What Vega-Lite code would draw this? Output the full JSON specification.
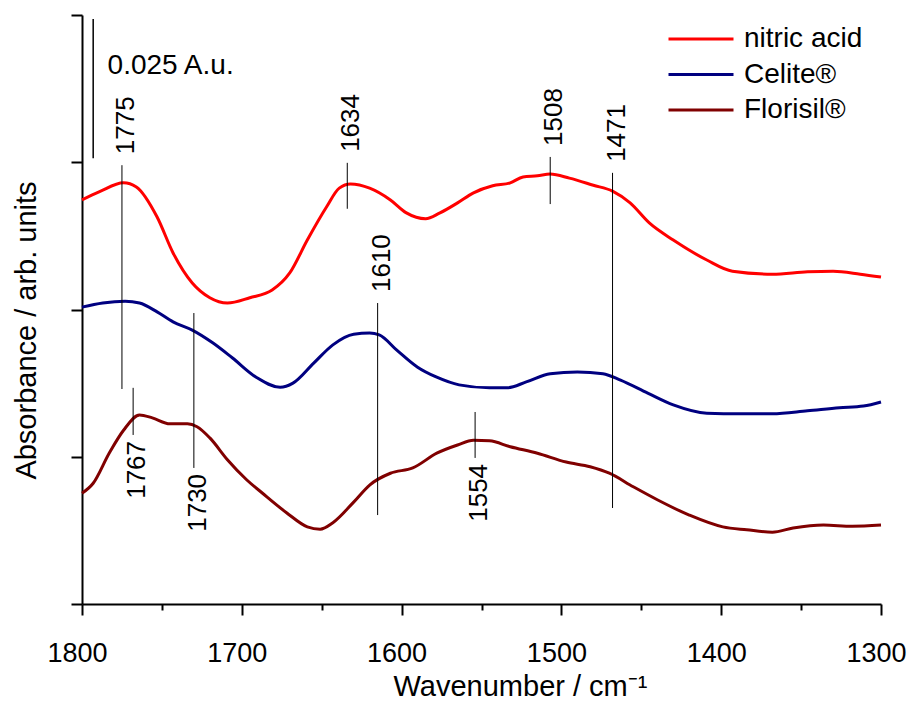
{
  "$schema": "https://vega.github.io/schema/vega-lite/v6.json",
  "width": 799,
  "height": 589,
  "autosize": "none",
  "padding": {"left": 82, "top": 15, "right": 29, "bottom": 100},
  "background": "white",
  "config": {
    "view": {"stroke": null},
    "font": "Liberation Sans",
    "text": {"font": "Liberation Sans", "color": "black"}
  },
  "datasets": {
    "spectra": [
      {"series":"nitric acid","wn":1800,"absorbance":0.0686},
      {"series":"nitric acid","wn":1789,"absorbance":0.0700},
      {"series":"nitric acid","wn":1774,"absorbance":0.0715},
      {"series":"nitric acid","wn":1766,"absorbance":0.0708},
      {"series":"nitric acid","wn":1753,"absorbance":0.0657},
      {"series":"nitric acid","wn":1743,"absorbance":0.0596},
      {"series":"nitric acid","wn":1731,"absorbance":0.0545},
      {"series":"nitric acid","wn":1720,"absorbance":0.0520},
      {"series":"nitric acid","wn":1709,"absorbance":0.0511},
      {"series":"nitric acid","wn":1695,"absorbance":0.0520},
      {"series":"nitric acid","wn":1681,"absorbance":0.0533},
      {"series":"nitric acid","wn":1670,"absorbance":0.0562},
      {"series":"nitric acid","wn":1659,"absorbance":0.0618},
      {"series":"nitric acid","wn":1647,"absorbance":0.0674},
      {"series":"nitric acid","wn":1639,"absorbance":0.0706},
      {"series":"nitric acid","wn":1632,"absorbance":0.0713},
      {"series":"nitric acid","wn":1620,"absorbance":0.0706},
      {"series":"nitric acid","wn":1607,"absorbance":0.0686},
      {"series":"nitric acid","wn":1597,"absorbance":0.0664},
      {"series":"nitric acid","wn":1585,"absorbance":0.0654},
      {"series":"nitric acid","wn":1576,"absorbance":0.0664},
      {"series":"nitric acid","wn":1565,"absorbance":0.0681},
      {"series":"nitric acid","wn":1555,"absorbance":0.0698},
      {"series":"nitric acid","wn":1543,"absorbance":0.0710},
      {"series":"nitric acid","wn":1532,"absorbance":0.0715},
      {"series":"nitric acid","wn":1524,"absorbance":0.0725},
      {"series":"nitric acid","wn":1515,"absorbance":0.0727},
      {"series":"nitric acid","wn":1507,"absorbance":0.0730},
      {"series":"nitric acid","wn":1495,"absorbance":0.0723},
      {"series":"nitric acid","wn":1480,"absorbance":0.0711},
      {"series":"nitric acid","wn":1468,"absorbance":0.0701},
      {"series":"nitric acid","wn":1457,"absorbance":0.0681},
      {"series":"nitric acid","wn":1445,"absorbance":0.0647},
      {"series":"nitric acid","wn":1430,"absorbance":0.0618},
      {"series":"nitric acid","wn":1409,"absorbance":0.0584},
      {"series":"nitric acid","wn":1393,"absorbance":0.0565},
      {"series":"nitric acid","wn":1368,"absorbance":0.0560},
      {"series":"nitric acid","wn":1346,"absorbance":0.0564},
      {"series":"nitric acid","wn":1330,"absorbance":0.0565},
      {"series":"nitric acid","wn":1313,"absorbance":0.0560},
      {"series":"nitric acid","wn":1300,"absorbance":0.0555},
      {"series":"Celite®","wn":1800,"absorbance":0.0504},
      {"series":"Celite®","wn":1787,"absorbance":0.0511},
      {"series":"Celite®","wn":1773,"absorbance":0.0514},
      {"series":"Celite®","wn":1764,"absorbance":0.0511},
      {"series":"Celite®","wn":1753,"absorbance":0.0496},
      {"series":"Celite®","wn":1743,"absorbance":0.0479},
      {"series":"Celite®","wn":1731,"absorbance":0.0465},
      {"series":"Celite®","wn":1718,"absorbance":0.0443},
      {"series":"Celite®","wn":1706,"absorbance":0.0418},
      {"series":"Celite®","wn":1691,"absorbance":0.0385},
      {"series":"Celite®","wn":1676,"absorbance":0.0368},
      {"series":"Celite®","wn":1668,"absorbance":0.0375},
      {"series":"Celite®","wn":1655,"absorbance":0.0409},
      {"series":"Celite®","wn":1643,"absorbance":0.0440},
      {"series":"Celite®","wn":1630,"absorbance":0.0458},
      {"series":"Celite®","wn":1620,"absorbance":0.0460},
      {"series":"Celite®","wn":1614,"absorbance":0.0457},
      {"series":"Celite®","wn":1603,"absorbance":0.0431},
      {"series":"Celite®","wn":1590,"absorbance":0.0402},
      {"series":"Celite®","wn":1578,"absorbance":0.0385},
      {"series":"Celite®","wn":1564,"absorbance":0.0372},
      {"series":"Celite®","wn":1545,"absorbance":0.0367},
      {"series":"Celite®","wn":1534,"absorbance":0.0367},
      {"series":"Celite®","wn":1522,"absorbance":0.0377},
      {"series":"Celite®","wn":1507,"absorbance":0.0391},
      {"series":"Celite®","wn":1490,"absorbance":0.0394},
      {"series":"Celite®","wn":1474,"absorbance":0.0391},
      {"series":"Celite®","wn":1463,"absorbance":0.0380},
      {"series":"Celite®","wn":1446,"absorbance":0.0358},
      {"series":"Celite®","wn":1430,"absorbance":0.0338},
      {"series":"Celite®","wn":1409,"absorbance":0.0324},
      {"series":"Celite®","wn":1388,"absorbance":0.0323},
      {"series":"Celite®","wn":1368,"absorbance":0.0323},
      {"series":"Celite®","wn":1346,"absorbance":0.0328},
      {"series":"Celite®","wn":1326,"absorbance":0.0333},
      {"series":"Celite®","wn":1311,"absorbance":0.0336},
      {"series":"Celite®","wn":1300,"absorbance":0.0343},
      {"series":"Florisil®","wn":1800,"absorbance":0.0188},
      {"series":"Florisil®","wn":1793,"absorbance":0.0205},
      {"series":"Florisil®","wn":1783,"absorbance":0.0256},
      {"series":"Florisil®","wn":1774,"absorbance":0.0295},
      {"series":"Florisil®","wn":1764,"absorbance":0.0321},
      {"series":"Florisil®","wn":1756,"absorbance":0.0316},
      {"series":"Florisil®","wn":1745,"absorbance":0.0306},
      {"series":"Florisil®","wn":1734,"absorbance":0.0306},
      {"series":"Florisil®","wn":1728,"absorbance":0.0301},
      {"series":"Florisil®","wn":1720,"absorbance":0.0282},
      {"series":"Florisil®","wn":1709,"absorbance":0.0245},
      {"series":"Florisil®","wn":1697,"absorbance":0.0211},
      {"series":"Florisil®","wn":1687,"absorbance":0.0188},
      {"series":"Florisil®","wn":1672,"absorbance":0.0155},
      {"series":"Florisil®","wn":1659,"absorbance":0.0131},
      {"series":"Florisil®","wn":1651,"absorbance":0.0127},
      {"series":"Florisil®","wn":1643,"absorbance":0.0138},
      {"series":"Florisil®","wn":1630,"absorbance":0.0173},
      {"series":"Florisil®","wn":1620,"absorbance":0.0202},
      {"series":"Florisil®","wn":1607,"absorbance":0.0222},
      {"series":"Florisil®","wn":1593,"absorbance":0.0231},
      {"series":"Florisil®","wn":1578,"absorbance":0.0256},
      {"series":"Florisil®","wn":1565,"absorbance":0.0270},
      {"series":"Florisil®","wn":1555,"absorbance":0.0278},
      {"series":"Florisil®","wn":1545,"absorbance":0.0277},
      {"series":"Florisil®","wn":1532,"absorbance":0.0267},
      {"series":"Florisil®","wn":1515,"absorbance":0.0256},
      {"series":"Florisil®","wn":1497,"absorbance":0.0241},
      {"series":"Florisil®","wn":1482,"absorbance":0.0233},
      {"series":"Florisil®","wn":1470,"absorbance":0.0222},
      {"series":"Florisil®","wn":1455,"absorbance":0.0199},
      {"series":"Florisil®","wn":1440,"absorbance":0.0177},
      {"series":"Florisil®","wn":1420,"absorbance":0.0151},
      {"series":"Florisil®","wn":1399,"absorbance":0.0131},
      {"series":"Florisil®","wn":1384,"absorbance":0.0126},
      {"series":"Florisil®","wn":1368,"absorbance":0.0122},
      {"series":"Florisil®","wn":1355,"absorbance":0.0129},
      {"series":"Florisil®","wn":1336,"absorbance":0.0134},
      {"series":"Florisil®","wn":1318,"absorbance":0.0132},
      {"series":"Florisil®","wn":1300,"absorbance":0.0134}
    ],
    "peaks": [
      {"label":"1775","wn":1775,"top":0.0745,"bottom":0.0365,"side":"up"},
      {"label":"1634","wn":1634,"top":0.0749,"bottom":0.0671,"side":"up"},
      {"label":"1508","wn":1507,"top":0.0759,"bottom":0.0679,"side":"up"},
      {"label":"1471","wn":1468,"top":0.0732,"bottom":0.0163,"side":"up"},
      {"label":"1610","wn":1615,"top":0.0511,"bottom":0.0151,"side":"up"},
      {"label":"1730","wn":1730,"top":0.0494,"bottom":0.0231,"side":"down"},
      {"label":"1767","wn":1768,"top":0.0367,"bottom":0.0287,"side":"down"},
      {"label":"1554","wn":1554,"top":0.0326,"bottom":0.0248,"side":"down"}
    ],
    "scalebar": [
      {"wn":1793,"top":0.0993,"bottom":0.0757,"labelWn":1784,"labelAbs":0.0900,"label":"0.025 A.u."}
    ]
  },
  "layer": [
    {
      "data": {"name": "spectra"},
      "mark": {"type": "line", "strokeWidth": 3, "interpolate": "monotone"},
      "encoding": {
        "x": {
          "field": "wn", "type": "quantitative",
          "scale": {"domain": [1300, 1800], "reverse": true, "nice": false, "zero": false},
          "axis": {
            "values": [1800,1750,1700,1650,1600,1550,1500,1450,1400,1350,1300],
            "labelExpr": "datum.value % 100 === 0 ? datum.label : ''",
            "format": "d",
            "labelOverlap": false,
            "labelFlush": false,
            "labelFont": "Liberation Sans",
            "labelFontSize": 27,
            "labelColor": "black",
            "labelPadding": 25,
            "labelOffset": -5,
            "tickSize": {"condition": {"test": "datum.value % 100 === 0", "value": 11}, "value": 6},
            "tickColor": "black",
            "tickWidth": 2,
            "domainColor": "black",
            "domainWidth": 2,
            "grid": false,
            "title": "Wavenumber / cm⁻¹",
            "titleFont": "Liberation Sans",
            "titleFontSize": 29,
            "titleFontWeight": "normal",
            "titleColor": "black",
            "titleX": 438,
            "titleY": 91,
            "titleBaseline": "alphabetic"
          }
        },
        "y": {
          "field": "absorbance", "type": "quantitative",
          "scale": {"domain": [0, 0.1], "nice": false, "zero": false},
          "axis": {
            "values": [0, 0.025, 0.05, 0.075, 0.1],
            "labels": false,
            "tickSize": 11,
            "tickColor": "black",
            "tickWidth": 2,
            "domainColor": "black",
            "domainWidth": 2,
            "grid": false,
            "title": "Absorbance / arb. units",
            "titleFont": "Liberation Sans",
            "titleFontSize": 29,
            "titleFontWeight": "normal",
            "titleColor": "black",
            "titleAngle": 270,
            "titleX": -47,
            "titleY": 315,
            "titleBaseline": "alphabetic",
            "titleAlign": "center"
          }
        },
        "color": {
          "field": "series", "type": "nominal",
          "scale": {"domain": ["nitric acid", "Celite®", "Florisil®"], "range": ["#FF0000", "#000080", "#800000"]},
          "legend": {
            "title": null,
            "orient": "none",
            "legendX": 585,
            "legendY": 7,
            "padding": 0,
            "symbolType": "stroke",
            "symbolSize": 4225,
            "symbolStrokeWidth": 3,
            "clipHeight": 34,
            "labelFont": "Liberation Sans",
            "labelFontSize": 28,
            "labelColor": "black",
            "labelOffset": 9,
            "rowPadding": 1.5
          }
        }
      }
    },
    {
      "data": {"name": "peaks"},
      "mark": {"type": "rule", "color": "black", "strokeWidth": 1},
      "encoding": {
        "x": {"field": "wn", "type": "quantitative"},
        "y": {"field": "top", "type": "quantitative"},
        "y2": {"field": "bottom"}
      }
    },
    {
      "data": {"name": "peaks"},
      "transform": [{"filter": "datum.side === 'up'"}],
      "mark": {"type": "text", "angle": 270, "align": "left", "baseline": "middle", "dx": 11, "dy": 4, "fontSize": 26, "font": "Liberation Sans", "color": "black"},
      "encoding": {
        "x": {"field": "wn", "type": "quantitative"},
        "y": {"field": "top", "type": "quantitative"},
        "text": {"field": "label"}
      }
    },
    {
      "data": {"name": "peaks"},
      "transform": [{"filter": "datum.side === 'down'"}],
      "mark": {"type": "text", "angle": 270, "align": "right", "baseline": "middle", "dx": -6, "dy": 4, "fontSize": 26, "font": "Liberation Sans", "color": "black"},
      "encoding": {
        "x": {"field": "wn", "type": "quantitative"},
        "y": {"field": "bottom", "type": "quantitative"},
        "text": {"field": "label"}
      }
    },
    {
      "data": {"name": "scalebar"},
      "mark": {"type": "rule", "color": "black", "strokeWidth": 1.5},
      "encoding": {
        "x": {"field": "wn", "type": "quantitative"},
        "y": {"field": "top", "type": "quantitative"},
        "y2": {"field": "bottom"}
      }
    },
    {
      "data": {"name": "scalebar"},
      "mark": {"type": "text", "align": "left", "baseline": "alphabetic", "fontSize": 28, "font": "Liberation Sans", "color": "black"},
      "encoding": {
        "x": {"field": "labelWn", "type": "quantitative"},
        "y": {"field": "labelAbs", "type": "quantitative"},
        "text": {"field": "label"}
      }
    }
  ]
}
